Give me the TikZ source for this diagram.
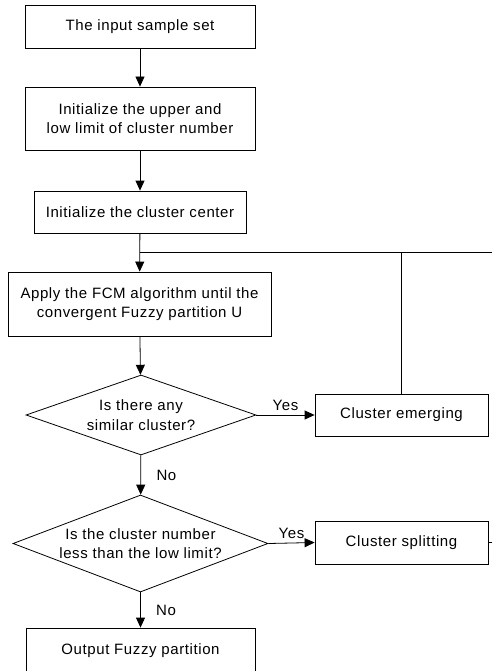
\documentclass[tikz,border=0pt]{standalone}
\usepackage{fontspec}
\setmainfont[LetterSpace=4]{Liberation Sans}
\usetikzlibrary{positioning,%
  shapes.geometric,%
  arrows.meta
}

\begin{document}
\begin{tikzpicture}[x=1pt,y=-1pt,
    font=\fontsize{15}{19.5}\selectfont,
    line width=0.8pt,
    >={Triangle[length=10pt,width=9pt]},
    stepbox/.style={draw,rectangle,align=center,inner sep=0pt},
    query/.style={draw,diamond,aspect=2.9,align=center,inner sep=0pt}]
                    \clip (0,0) rectangle (492,671);
                    % main column
                    \node[stepbox,minimum width=230pt,minimum height=43pt] (input) at (140,26.5) {The input sample set};
                    \node[stepbox,minimum width=230pt,minimum height=63pt] (limits) at (140,118.5) {Initialize the upper and\\low limit of cluster number};
                    \node[stepbox,minimum width=212pt,minimum height=42pt] (center) at (140,212) {Initialize the cluster center};
                    \node[stepbox,minimum width=263pt,minimum height=64pt] (fcm) at (139.5,304) {Apply the FCM algorithm until the\\convergent Fuzzy partition U};
                    \node[query,minimum width=230pt,minimum height=80pt] (similar) at (141,415) {Is there any\\similar cluster?};
                    \node[query,minimum width=255pt,minimum height=97pt] (lowlim) at (140.5,543.5) {Is the cluster number\\less than the low limit?};
                    \node[stepbox,minimum width=229pt,minimum height=46pt] (output) at (140.5,651) {Output Fuzzy partition};
                    % side boxes
                    \node[stepbox,minimum width=173pt,minimum height=42pt] (emerge) at (401.5,415) {Cluster emerging};
                    \node[stepbox,minimum width=173pt,minimum height=43pt] (split) at (401.5,542.5) {Cluster splitting};
                    \coordinate (junc) at (140,252);
                    \coordinate (edgeA) at (492,252);
                    \coordinate (edgeB) at (492,542.5);

                    \draw[->] (input) -- (limits);
                    \draw[->] (limits) -- (center);
                    \draw[->] (center) -- (fcm);
                    \draw[->] (fcm) -- (similar);
                    \draw[->] (similar) -- node[right=12pt] {No} (lowlim);
                    \draw[->] (lowlim) -- node[right=12pt] {No} (output);
                    \draw[->] (similar.east) -- node[above=1pt] {Yes} (emerge.west);
                    \draw[->] (lowlim.east) -- node[above=1pt] {Yes} (split.west);
                    % loop back
                    \draw (junc) -- (edgeA);
                    \draw (emerge.north) -- (emerge.north |- junc);
                    \draw (split.east) -- (edgeB);
                \end{tikzpicture}
\end{document}
